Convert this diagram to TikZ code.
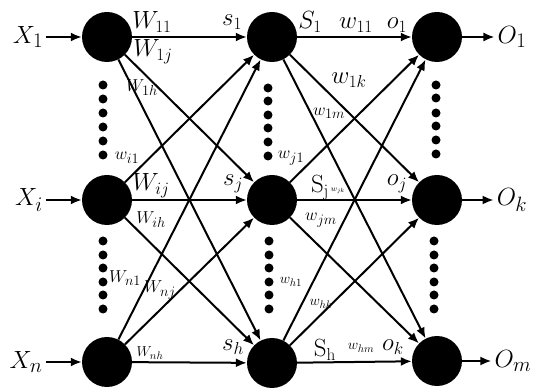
\documentclass[tikz,border=0pt]{standalone}
\usetikzlibrary{arrows.meta}
\tikzset{
  neuron/.style={circle, fill=black, minimum size=50pt, inner sep=0pt},
  conn/.style={line width=2pt, -{Latex[length=11pt,width=9pt]}},
  big/.style={font=\fontsize{28}{28}\selectfont, inner sep=3pt},
  sig/.style={font=\fontsize{26}{26}\selectfont, inner sep=0pt},
  lab/.style={font=\fontsize{23}{23}\selectfont, inner sep=0pt},
  sml/.style={font=\fontsize{19}{19}\selectfont, inner sep=0pt},
  tny/.style={font=\fontsize{15}{15}\selectfont, inner sep=0pt}
}
\begin{document}
\begin{tikzpicture}[x=1pt,y=-1pt]
\useasboundingbox (0,0) rectangle (542,390);
% neurons
\node[neuron] (x1) at (107,37) {};
\node[neuron] (xi) at (107,200) {};
\node[neuron] (xn) at (107,362) {};
\node[neuron] (h1) at (272,37) {};
\node[neuron] (hj) at (272,200) {};
\node[neuron] (hh) at (272,363) {};
\node[neuron] (o1) at (437,37) {};
\node[neuron] (ok) at (437,200) {};
\node[neuron] (om) at (437,361) {};
% inputs and outputs
\node[big] (lx1) at (28,37) {$X_1$};
\node[big] (lxi) at (29,200) {$X_i$};
\node[big] (lxn) at (26,362) {$X_n$};
\node[big] (lo1) at (512,37) {$O_1$};
\node[big] (lok) at (512,200) {$O_k$};
\node[big] (lom) at (513,361) {$O_m$};
\draw[conn] (lx1) -- (x1);
\draw[conn] (lxi) -- (xi);
\draw[conn] (lxn) -- (xn);
\draw[conn] (o1) -- (lo1);
\draw[conn] (ok) -- (lok);
\draw[conn] (om) -- (lom);
% input -> hidden
\draw[conn] (x1) -- (h1);
\draw[conn] (x1) -- (hj);
\draw[conn] (x1) -- (hh);
\draw[conn] (xi) -- (h1);
\draw[conn] (xi) -- (hj);
\draw[conn] (xi) -- (hh);
\draw[conn] (xn) -- (h1);
\draw[conn] (xn) -- (hj);
\draw[conn] (xn) -- (hh);
% hidden -> output
\draw[conn] (h1) -- (o1);
\draw[conn] (h1) -- (ok);
\draw[conn] (h1) -- (om);
\draw[conn] (hj) -- (o1);
\draw[conn] (hj) -- (ok);
\draw[conn] (hj) -- (om);
\draw[conn] (hh) -- (o1);
\draw[conn] (hh) -- (ok);
\draw[conn] (hh) -- (om);
% dots
\fill (103,85) circle (4.5) (103,99) circle (4.5) (103,113) circle (4.5) (103,127) circle (4.5) (103,141) circle (4.5) (103,155) circle (4.5);
\fill (103,241) circle (4.5) (103,255) circle (4.5) (103,268) circle (4.5) (103,282) circle (4.5) (103,295) circle (4.5) (103,309) circle (4.5);
\fill (268,88) circle (4.5) (268,101) circle (4.5) (268,115) circle (4.5) (268,128) circle (4.5) (268,142) circle (4.5) (268,156) circle (4.5);
\fill (269,241) circle (4.5) (269,255) circle (4.5) (269,268) circle (4.5) (269,282) circle (4.5) (269,295) circle (4.5) (269,309) circle (4.5);
\fill (436,85) circle (4.5) (436,98) circle (4.5) (436,113) circle (4.5) (436,126) circle (4.5) (436,140) circle (4.5) (436,154) circle (4.5);
\fill (434,241) circle (4.5) (434,255) circle (4.5) (434,268) circle (4.5) (434,282) circle (4.5) (434,295) circle (4.5) (434,309) circle (4.5);
% weights and signals
\node[lab] (w11) at (152,22) {$W_{11}$};
\node[lab] (w1j) at (153,52) {$W_{1j}$};
\node[sml] (w1h) at (142,88) {$W_{1h}$};
\node[sml] (wi1) at (127,158) {$w_{i1}$};
\node[lab] (wij) at (151,186) {$W_{ij}$};
\node[sml] (wih) at (151,220) {$W_{ih}$};
\node[sml] (wn1) at (125,278) {$W_{n1}$};
\node[sml] (wnj) at (160,290) {$W_{nj}$};
\node[tny] (wnh) at (150,353) {$W_{nh}$};
\node[sig] (s1) at (232,22) {$s_1$};
\node[sig] (sj) at (233,184) {$s_j$};
\node[sig] (sh) at (233,347) {$s_h$};
\node[sig] (S1) at (310,22) {$S_1$};
\node[sig] (Sj) at (320,188) {$\mathrm{S_j}$};
\node[sig] (Sh) at (325,350) {$\mathrm{S_h}$};
\node[lab] (v11) at (356,25) {$w_{11}$};
\node[lab] (v1k) at (349,80) {$w_{1k}$};
\node[sml] (v1m) at (329,113) {$w_{1m}$};
\node[sml] (vj1) at (291,158) {$w_{j1}$};
\node[font=\fontsize{8}{8}\selectfont, inner sep=0pt] (vjk) at (338,191) {$w_{jk}$};
\node[sml] (vjm) at (321,220) {$w_{jm}$};
\node[tny] (vh1) at (291,282) {$w_{h1}$};
\node[tny] (vhk) at (321,304) {$w_{hk}$};
\node[tny] (vhm) at (361,348) {$w_{hm}$};
\node[sig] (ko1) at (397,25) {$o_1$};
\node[sig] (koj) at (397,184) {$o_j$};
\node[sig] (kok) at (393,347) {$o_k$};
\end{tikzpicture}
\end{document}
